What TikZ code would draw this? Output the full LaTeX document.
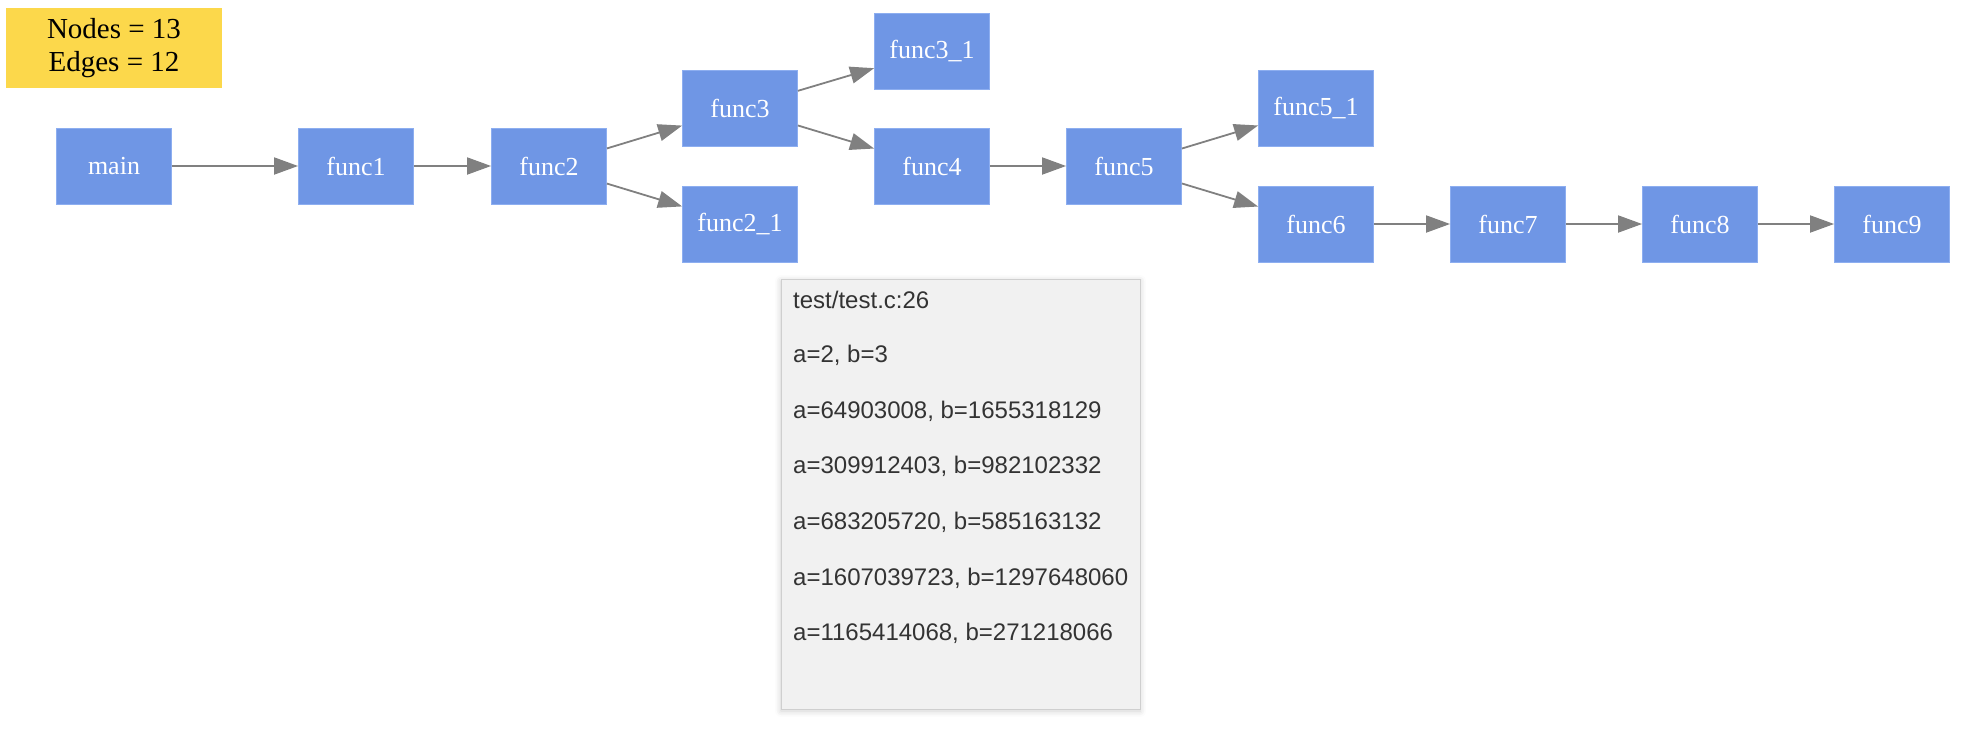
\documentclass[tikz,border=0pt]{standalone}
\usepackage{fontspec}
\setmainfont{Liberation Serif}
\newfontfamily\tipfont{Liberation Sans}
\usetikzlibrary{arrows.meta,shadows.blur}
\definecolor{fnblue}{HTML}{6F96E5}
\definecolor{fnborder}{HTML}{8DAEF0}
\definecolor{statyellow}{HTML}{FCD84B}
\definecolor{edgegray}{HTML}{808080}
\definecolor{tipbg}{HTML}{F1F1F1}
\definecolor{tipborder}{HTML}{CFCFCF}
\definecolor{tiptext}{HTML}{333333}
\tikzset{
  fn/.style={rectangle, fill=fnblue, draw=fnborder, line width=0.8pt,
    minimum width=115pt, minimum height=76pt, inner sep=0pt,
    text=white, font=\fontsize{26}{30}\selectfont},
  call/.style={draw=edgegray, line width=1.8pt,
    -{Triangle[length=24pt,width=17pt,fill=edgegray]}},
  tipline/.style={anchor=west, inner sep=0pt, text=tiptext,
    font=\tipfont\fontsize{24}{28}\selectfont},
}
\begin{document}
\begin{tikzpicture}[x=1pt,y=-1pt]
\useasboundingbox (0,0) rectangle (1982,747);
% stats box
\node[rectangle, fill=statyellow, minimum width=216pt, minimum height=80pt,
  inner sep=0pt, align=center, font=\fontsize{29}{33}\selectfont]
  (stats) at (114,48) {Nodes = 13\\Edges = 12};
% functions
\node[fn] (main)   at (114,166) {main};
\node[fn] (f1)     at (356,166) {func1};
\node[fn] (f2)     at (549,166) {func2};
\node[fn] (f3)     at (740,108) {func3};
\node[fn] (f21)    at (740,224) {func2\_1};
\node[fn] (f31)    at (932,51)  {func3\_1};
\node[fn] (f4)     at (932,166) {func4};
\node[fn] (f5)     at (1124,166) {func5};
\node[fn] (f51)    at (1316,108) {func5\_1};
\node[fn] (f6)     at (1316,224) {func6};
\node[fn] (f7)     at (1508,224) {func7};
\node[fn] (f8)     at (1700,224) {func8};
\node[fn] (f9)     at (1892,224) {func9};
% edges
\draw[call] (main) -- (f1);
\draw[call] (f1) -- (f2);
\draw[call] (f2) -- (f3);
\draw[call] (f2) -- (f21);
\draw[call] (f3) -- (f31);
\draw[call] (f3) -- (f4);
\draw[call] (f4) -- (f5);
\draw[call] (f5) -- (f51);
\draw[call] (f5) -- (f6);
\draw[call] (f6) -- (f7);
\draw[call] (f7) -- (f8);
\draw[call] (f8) -- (f9);
% tooltip
\node[rectangle, fill=tipbg, draw=tipborder, line width=0.8pt,
  minimum width=359pt, minimum height=430pt, inner sep=0pt,
  blur shadow={shadow xshift=0pt, shadow yshift=-2pt, shadow blur radius=6pt, shadow opacity=20}]
  (tip) at (960.5,494) {};
\node[tipline] (t0) at (793,300) {test/test.c:26};
\node[tipline] (t1) at (793,355) {a=2, b=3};
\node[tipline] (t2) at (793,411) {a=64903008, b=1655318129};
\node[tipline] (t3) at (793,466) {a=309912403, b=982102332};
\node[tipline] (t4) at (793,522) {a=683205720, b=585163132};
\node[tipline] (t5) at (793,578) {a=1607039723, b=1297648060};
\node[tipline] (t6) at (793,633) {a=1165414068, b=271218066};
\end{tikzpicture}
\end{document}
